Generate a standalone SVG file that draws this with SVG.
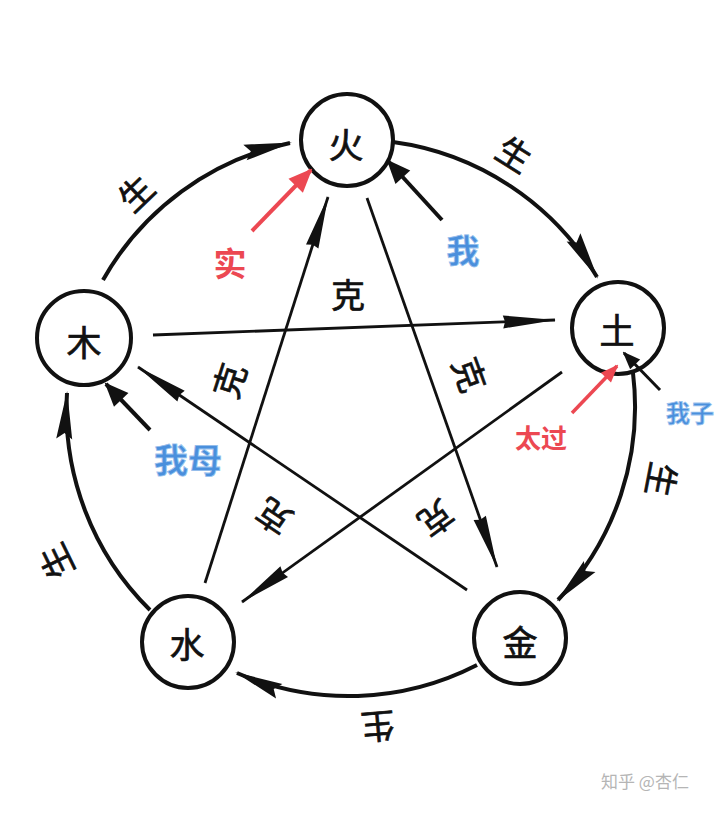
<svg xmlns="http://www.w3.org/2000/svg" width="720" height="814" viewBox="0 0 720 814">
<style>
.node{fill:#fff;stroke:#111;stroke-width:4}
.el{font-family:"Noto Sans CJK SC","Noto Sans CJK JP",sans-serif;font-size:35px;fill:#111;stroke:#111;stroke-width:0.7;text-anchor:middle;dominant-baseline:central}
.lbl{font-family:"Noto Sans CJK SC","Noto Sans CJK JP",sans-serif;font-size:34px;fill:#111;stroke:#111;stroke-width:0.7;text-anchor:middle;dominant-baseline:central}
.arc{fill:none;stroke:#111;stroke-width:4;marker-end:url(#arcHead)}
.star{fill:none;stroke:#111;stroke-width:2.8;marker-end:url(#starHead)}
.ann{fill:none;stroke:#111;stroke-width:4}
.red{font-family:"Noto Sans CJK SC","Noto Sans CJK JP",sans-serif;font-weight:bold;fill:#ec4852;text-anchor:middle;dominant-baseline:central}
.blue{font-family:"Noto Sans CJK SC","Noto Sans CJK JP",sans-serif;font-weight:bold;fill:#4a8fdc;stroke:#9cc3ee;stroke-width:0.8;text-anchor:middle;dominant-baseline:central}
</style>
<defs>
<marker id="arcHead" markerUnits="userSpaceOnUse" viewBox="-48 -10 52 20" markerWidth="52" markerHeight="20" refX="0" refY="0" orient="auto">
<path d="M2,0 L-46,-8 L-40,0 L-46,8 Z" fill="#111"/>
</marker>
<marker id="starHead" markerUnits="userSpaceOnUse" viewBox="-56 -8 60 16" markerWidth="60" markerHeight="16" refX="0" refY="0" orient="auto">
<path d="M1,0 L-52,-6.5 L-50,0 L-52,6.5 Z" fill="#111"/>
</marker>
<marker id="blackTri" markerUnits="userSpaceOnUse" viewBox="-24 -12 26 24" markerWidth="26" markerHeight="24" refX="0" refY="0" orient="auto">
<path d="M2,0 L-22,-10 L-22,10 Z" fill="#111"/>
</marker>
<marker id="redTri" markerUnits="userSpaceOnUse" viewBox="-24 -12 26 24" markerWidth="26" markerHeight="24" refX="0" refY="0" orient="auto">
<path d="M2,0 L-22,-10 L-22,10 Z" fill="#ec4852"/>
</marker>
<marker id="blackTriS" markerUnits="userSpaceOnUse" viewBox="-18 -9 20 18" markerWidth="20" markerHeight="18" refX="0" refY="0" orient="auto">
<path d="M2,0 L-16,-7 L-16,7 Z" fill="#111"/>
</marker>
<marker id="redTriS" markerUnits="userSpaceOnUse" viewBox="-18 -9 20 18" markerWidth="20" markerHeight="18" refX="0" refY="0" orient="auto">
<path d="M2,0 L-16,-7 L-16,7 Z" fill="#ec4852"/>
</marker>
</defs>
<rect x="0" y="0" width="720" height="814" fill="#fff"/>

<g id="connectors">
<path class="arc" d="M103,280 A281,281 0 0 1 290,143"/>
<path class="arc" d="M393,142 A281,281 0 0 1 597,277"/>
<path class="arc" d="M633,373 A281,281 0 0 1 558,600"/>
<path class="arc" d="M477,665 A281,281 0 0 1 237,673"/>
<path class="arc" d="M150,610 A281,281 0 0 1 67,393"/>
<path class="star" d="M153,335 L555,320"/>
<path class="star" d="M562,372 L242,602"/>
<path class="star" d="M205,583 L328,197"/>
<path class="star" d="M367,198 L497,567"/>
<path class="star" d="M467,590 L138,367"/>
</g>

<g id="labels">
<text class="lbl" transform="translate(135,192) rotate(-44)">生</text>
<text class="lbl" transform="translate(515,153) rotate(32)">生</text>
<text class="lbl" transform="translate(663,480) rotate(101)">生</text>
<text class="lbl" transform="translate(378,728) rotate(175)">生</text>
<text class="lbl" transform="translate(55,562) rotate(-116)">生</text>
<text class="lbl" transform="translate(348,293)">克</text>
<text class="lbl" transform="translate(228,380) rotate(-72)">克</text>
<text class="lbl" transform="translate(471,374) rotate(70)">克</text>
<text class="lbl" transform="translate(273,518) rotate(-146)">克</text>
<text class="lbl" transform="translate(437,520) rotate(144)">克</text>
<text class="red" x="230" y="262" font-size="33">实</text>
<text class="red" x="541" y="436" font-size="26">太过</text>
<text class="blue" x="463" y="249" font-size="33">我</text>
<text class="blue" x="188" y="458" font-size="34">我母</text>
<text class="blue" x="690" y="411" font-size="24">我子</text>
</g>

<g id="node-huo"><circle class="node" cx="347" cy="140" r="46"/><text class="el" x="346" y="142">火</text></g>
<g id="node-tu"><circle class="node" cx="618" cy="328" r="46"/><text class="el" x="617" y="328">土</text></g>
<g id="node-jin"><circle class="node" cx="520" cy="638" r="46"/><text class="el" x="520" y="640">金</text></g>
<g id="node-shui"><circle class="node" cx="188" cy="642" r="46"/><text class="el" x="187" y="642">水</text></g>
<g id="node-mu"><circle class="node" cx="84" cy="338" r="47"/><text class="el" x="84" y="340">木</text></g>

<g id="annotations">
<path d="M252,231 L311,170" fill="none" stroke="#ec4852" stroke-width="4" marker-end="url(#redTri)"/>
<path d="M442,220 L388,161" class="ann" marker-end="url(#blackTri)"/>
<path d="M150,430 L106,384" class="ann" marker-end="url(#blackTri)"/>
<path d="M660,390 L624,353" fill="none" stroke="#111" stroke-width="3" marker-end="url(#blackTriS)"/>
<path d="M572,413 L617,366" fill="none" stroke="#ec4852" stroke-width="3.5" marker-end="url(#redTriS)"/>
</g>

<text x="645" y="780" font-family="Noto Sans CJK SC, sans-serif" font-size="17" fill="#b5b5b5" text-anchor="middle" dominant-baseline="central">知乎 @杏仁</text>
</svg>
